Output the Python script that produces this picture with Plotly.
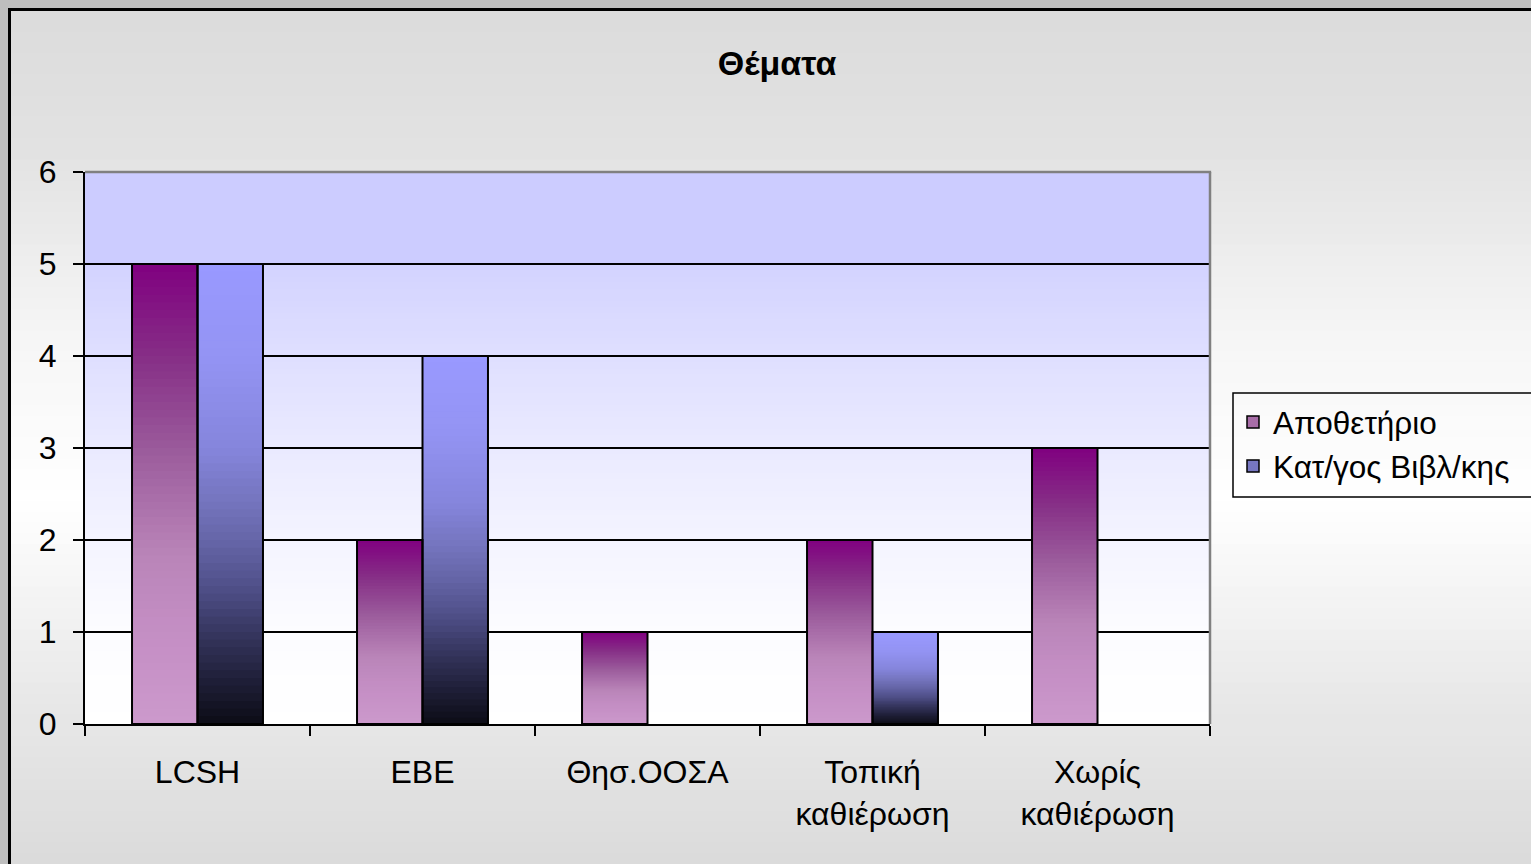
import plotly.graph_objects as go

# ---------------- data ----------------
categories = ["LCSH", "ΕΒΕ", "Θησ.ΟΟΣΑ", "Τοπική<br>καθιέρωση", "Χωρίς<br>καθιέρωση"]
series_names = ["Αποθετήριο", "Κατ/γος Βιβλ/κης"]
apothetirio = [5, 2, 1, 2, 3]
katalogos = [5, 4, 0, 1, 0]
y_ticks = [0, 1, 2, 3, 4, 5, 6]
title_text = "Θέματα"

# ---------------- style ----------------
W, H = 1531, 864
L, R, T, B = 85, 1210, 172, 724          # plot-area pixel box
FONT = "Liberation Sans, Arial, sans-serif"

def hex2rgb(h):
    h = h.lstrip("#")
    return tuple(int(h[i:i + 2], 16) for i in (0, 2, 4))

def interp(stops, t):
    for (t0, c0), (t1, c1) in zip(stops[:-1], stops[1:]):
        if t0 <= t <= t1:
            f = 0 if t1 == t0 else (t - t0) / (t1 - t0)
            a, b = hex2rgb(c0), hex2rgb(c1)
            return "rgb(%d,%d,%d)" % tuple(round(a[i] + (b[i] - a[i]) * f) for i in range(3))
    return stops[-1][1]

purple_stops = [(0.0, "#CC99CC"), (0.22, "#C38DC3"), (0.37, "#B984B8"), (0.5, "#A86DA8"),
                (0.6, "#9A5A9B"), (0.8, "#862E86"), (1.0, "#800080")]
blue_stops = [(0.0, "#0C0C16"), (0.1, "#20203A"), (0.2, "#373760"), (0.3, "#50508A"),
              (0.4, "#6666A8"), (0.5, "#7777C2"), (0.6, "#8585DC"), (0.8, "#9494F4"),
              (1.0, "#9999FF")]
plotbg_stops = [(0.0, "#FFFFFF"), (1.0, "#FCFCFF"), (2.0, "#F4F4FF"), (3.0, "#EAEAFF"),
                (4.0, "#DFDFFF"), (5.0, "#D3D3FF"), (5.0001, "#CCCCFF"), (6.0, "#CCCCFF")]
outer_stops = [(0, "#DBDBDB"), (150, "#E2E2E2"), (340, "#F6F6F6"), (500, "#FFFFFF"),
               (700, "#E8E8E8"), (864, "#DBDBDB")]   # pixel y

def px2paper_x(px):
    return (px - L) / (R - L)

def px2paper_y(py):
    return (B - py) / (B - T)

fig = go.Figure()

N = 60
series = [(series_names[0], apothetirio, purple_stops, "so1"),
          (series_names[1], katalogos, blue_stops, "so2")]

for name, vals, stops, og in series:
    for k in range(N):
        t = (k + 0.5) / N
        fig.add_trace(go.Bar(
            x=categories,
            y=[v * (N - k) / N for v in vals],
            base=[v * k / N for v in vals],
            offsetgroup=og,
            marker=dict(color=interp(stops, t), line=dict(width=0)),
            showlegend=False,
            hoverinfo="skip",
        ))
for name, vals, stops, og in series:
    fig.add_trace(go.Bar(
        x=categories,
        y=[v if v > 0 else None for v in vals],
        offsetgroup=og,
        marker=dict(color="rgba(0,0,0,0)", line=dict(color="black", width=2)),
        showlegend=False,
        name=name,
    ))
for name, vals, stops, og in series:
    fig.add_trace(go.Bar(
        x=[categories[0]], y=[None], offsetgroup=og, name=name,
        marker=dict(color=interp(stops, 0.5), line=dict(color="black", width=1.5)),
        showlegend=True,
    ))

shapes = []
M = 80
y_top, y_bot = 10, 864
for i in range(M):
    p0 = y_top + (y_bot - y_top) * i / M
    p1 = y_top + (y_bot - y_top) * (i + 1) / M + 0.8
    shapes.append(dict(type="rect", xref="paper", yref="paper",
                       x0=px2paper_x(10), x1=px2paper_x(1545),
                       y0=px2paper_y(p0), y1=px2paper_y(p1),
                       fillcolor=interp(outer_stops, (p0 + p1) / 2),
                       line=dict(width=0), layer="below"))
P = 90
for i in range(P):
    d0 = 6 * i / P
    d1 = 6 * (i + 1) / P
    shapes.append(dict(type="rect", xref="x domain", yref="y",
                       x0=0, x1=1, y0=d0, y1=min(6, d1 + 0.01),
                       fillcolor=interp(plotbg_stops, (d0 + d1) / 2),
                       line=dict(width=0), layer="below"))
# outer black frame (right/bottom sides fall outside the canvas)
shapes.append(dict(type="rect", xref="paper", yref="paper",
                   x0=px2paper_x(9.5), x1=px2paper_x(1560),
                   y0=px2paper_y(9.5), y1=px2paper_y(890),
                   line=dict(color="black", width=3), fillcolor="rgba(0,0,0,0)", layer="above"))
# legend frame (runs off the right edge as in the original)
shapes.append(dict(type="rect", xref="paper", yref="paper",
                   x0=px2paper_x(1233), x1=px2paper_x(1560),
                   y0=px2paper_y(393), y1=px2paper_y(497),
                   line=dict(color="black", width=1.5), fillcolor="rgba(0,0,0,0)", layer="above"))
shapes.append(dict(type="line", xref="paper", yref="paper", x0=0, x1=1.001, y0=1, y1=1,
                   line=dict(color="#808080", width=2.5), layer="above"))
shapes.append(dict(type="line", xref="paper", yref="paper", x0=1, x1=1, y0=0, y1=1,
                   line=dict(color="#808080", width=2.5), layer="above"))

fig.update_layout(
    width=W, height=H,
    margin=dict(l=L, r=W - R, t=T, b=H - B, pad=0),
    paper_bgcolor="#BEBEBE",
    plot_bgcolor="rgba(0,0,0,0)",
    barmode="group",
    bargap=0.418,
    bargroupgap=0,
    shapes=shapes,
    font=dict(family=FONT, size=32, color="black"),
    title=dict(text="<b>" + title_text + "</b>", x=777 / W, xref="container",
               xanchor="center", y=1 - 63 / H, yref="container", yanchor="middle",
               font=dict(family=FONT, size=34, color="black")),
    legend=dict(x=px2paper_x(1233), y=px2paper_y(395), xanchor="left", yanchor="top",
                bgcolor="rgba(0,0,0,0)", borderwidth=0,
                font=dict(family=FONT, size=31.5, color="black"),
                itemclick=False, tracegroupgap=0),
    xaxis=dict(type="category", showgrid=False, showline=True, linecolor="black", linewidth=2,
               ticks="outside", tickson="boundaries", ticklen=10, tickwidth=2, tickcolor="black",
               tickfont=dict(family=FONT, size=32), fixedrange=True, ticklabelstandoff=19),
    yaxis=dict(range=[0, 6], tickvals=y_ticks, showgrid=True, gridcolor="black", gridwidth=2,
               zeroline=False, showline=True, linecolor="black", linewidth=2,
               ticks="outside", ticklen=10, tickwidth=2, tickcolor="black",
               tickfont=dict(family=FONT, size=32), ticklabelstandoff=10, fixedrange=True),
)

fig.write_html("out.html", config={"displayModeBar": False},
               post_script="document.body.style.margin='0';document.body.style.background='#BEBEBE';")
